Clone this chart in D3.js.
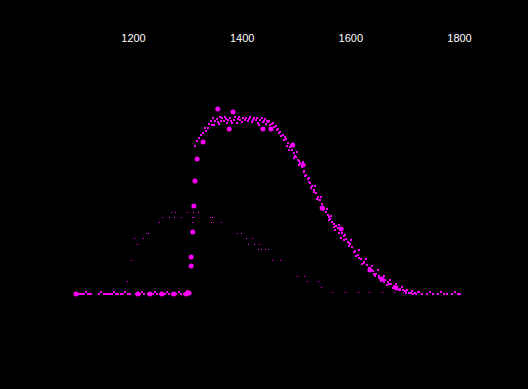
<html>
<head>
<script src="https://d3js.org/d3.v7.min.js"></script>
<style>
body { margin: 0; background: #000; }
svg { display: block; background: #000; }
</style>
</head>
<body>
<svg id="chart" width="528" height="389"></svg>
<script>
var width = 528, height = 389;

// tick labels along the top
var xTicks = [1200, 1400, 1600, 1800];

// main curve, small markers
var mainX = [1093,1098,1104,1110,1113,1117,1120,1138,1142,1146,1158,1162,1165,1169,1178,1182,1186,1190,1212,1216,1236,1240,1258,1262,1280,1284,1300,
  1100,1107,1123,1150,1154,1173,1195,1205,1220,1227,1245,1249,1267,1271,1289,1293,
  1314,1318,1321,1325,1329,1334,1338,1345,1347,1351,1356,1360,1364,1367,1371,1375,1378,1382,1388,1393,1397,1402,1408,1412,1415,1419,1423,1426,1430,1434,1437,1441,1445,1448,1452,1456,1459,1463,1467,
  1332,1340,1344,1349,1355,1358,1362,1369,1373,1380,1386,1391,1395,1401,1406,1413,1421,1428,1432,1439,1443,1447,1450,1458,1465,
  1470,1476,1482,1485,1489,1493,1496,1500,1504,1507,1511,1515,1518,1522,1526,1529,1533,1537,1540,1544,1548,1551,1555,1559,1562,1566,
  1570,1573,1577,1581,1584,1588,1592,1595,1599,1603,1608,1614,1620,1625,1631,1636,1642,1647,1653,1658,1664,1669,1675,1680,1686,1691,1697,1702,1708,
  1472,1480,1483,1491,1498,1502,1505,1513,1516,1524,1528,1535,1539,1546,1550,1557,1561,1564,1572,1579,1583,1590,1597,1601,1610,1616,1621,1629,1634,1640,1645,1651,1656,1662,1667,1673,1678,1684,1689,1695,1700,1704,1713,1719,1724,
  1469,1478,1487,1496,1505,1515,1524,1533,1542,1551,1561,1570,1579,1588,1597,1607,1616,1625,1634,1643,1653,1662,1671,1682,1691,1702,1712,
  1715,1720,1726,1732,1741,1746,1752,1761,1766,1772,1778,1787,1792,1798,1802];
var mainY = [0,0,0,0,1.1,0,0,0,1.1,0,0,0,1.1,0,0,0,1.1,0,0,1.1,0,1.1,0,1.1,0,1.1,1.7,
  0,0,0,0,0,0,0,0,0,0,0,0,0,0,0,0,
  85.1,87.9,89.7,91.4,92.5,93.7,95.4,97.1,101.1,99.4,98.9,101.7,101.1,99.4,100.6,100,101.1,98.3,101.7,100.6,100,101.1,101.1,99.4,101.7,98.9,101.1,100,98.3,100,101.1,99.4,97.7,98.9,97.1,97.7,96,96.6,94.8,
  95.4,97.7,99.4,97.1,100.6,97.7,99.4,101.7,98.3,99.4,100,98.3,101.7,98.9,100,100.6,100,101.1,97.1,98.9,100.6,99.4,99.4,98.3,94.3,
  93.1,91.4,89.1,86.8,84.5,82.8,81,78.7,77,75.3,73,70.7,68.4,66.1,63.8,62.1,59.8,58,55.7,54,51.7,49.4,47.1,45.4,43.1,41.4,
  40.2,39.1,37.9,36.8,35,33.3,31.6,29.9,28.7,27,24.7,22.4,20.1,18.4,16.7,14.9,13.2,11.5,10.3,9.2,8,6.9,5.7,4.6,4,2.9,2.3,1.1,0.6,
  90.8,90.2,85.1,85.1,79.3,81.6,74.1,75.9,67.8,66.7,60.9,62.1,54.6,55.7,48.3,48.9,42.5,44.8,36.8,39.7,32.2,33.9,27.6,31,21.8,25.3,17.2,20.1,13.2,16.1,10.3,13.8,7.5,10.3,5.2,8,3.4,5.7,2.3,4,1.7,2.3,1.7,0.6,1.1,
  92.5,88.5,82.8,78.2,76.4,70.1,64.4,58.6,54,48.9,44.3,38.5,35.1,31,29.3,24.1,20.7,17.8,14.9,11.5,9.2,6.9,5.7,3.4,2.3,0.6,0.6,
  0,0,1.1,0,0,1.1,0,0,1.1,0,0,0,1.1,0,0];

// main curve, large markers
var bigX = [1095,1209,1231,1253,1275,1298,1303,1307,1307,1310,1312,1314,1318,1329,1356,1377,1384,1439,1454,1494,1513,1548,1583,1636,1658,1684];
var bigY = [0,0,0,0,0,0,0.6,16.1,21.3,35.6,50.6,64.9,77.6,87.4,106.3,94.8,104.6,94.8,94.8,85.6,74.1,49.4,37.4,13.8,8.6,3.4];

// second, lower curve (fine dots)
var lowX = [1189,1196,1202,1207,1218,1224,1228,1248,1253,1266,1270,1277,1275,1288,1299,1309,1309,1310,1312,1320,1342,1345,1344,1362,1391,1399,1408,1419,1412,1423,1432,1430,1436,1443,1448,1456,1470,1502,1515,1520,1540,1546,1566,1590,1614,1634,1658,1680,1697];
var lowY = [7.5,19.5,32.2,28.7,32.2,35,35,41.4,44.3,44.3,47.1,47.1,44.3,44.3,47.1,44.3,41.4,47.1,44.3,47.1,44.3,44.3,41.4,41.4,35,35,32.2,32.2,28.7,28.7,28.7,25.9,25.9,25.9,25.9,19.5,19.5,10.3,10.3,7.5,7.5,4,1.1,1.1,1.1,1.1,1.1,1.1,1.1];

var svg = d3.select("#chart");
var x = d3.scaleLinear().domain([1200, 1800]).range([133, 459]);
var y = d3.scaleLinear().domain([0, 100]).range([294, 120]);

var axis = svg.append("g")
  .attr("transform", "translate(0,42)")
  .call(d3.axisTop(x).tickValues(xTicks).tickSize(0).tickPadding(0).tickFormat(d3.format("d")));
axis.select(".domain").remove();
axis.selectAll("text")
  .attr("fill", "#fff")
  .style("font-family", "Liberation Sans, Arial, sans-serif")
  .style("font-size", "11px");

svg.selectAll("rect.low").data(lowX).enter().append("rect")
  .attr("class", "low")
  .attr("x", function(d){ return Math.round(x(d)); })
  .attr("y", function(d, i){ return Math.round(y(lowY[i])); })
  .attr("width", 1).attr("height", 1)
  .attr("fill", "#ff00ff");

svg.selectAll("rect.main").data(mainX).enter().append("rect")
  .attr("class", "main")
  .attr("x", function(d){ return Math.round(x(d)) - 1; })
  .attr("y", function(d, i){ return Math.round(y(mainY[i])) - 1; })
  .attr("width", 2).attr("height", 2)
  .attr("fill", "#ff00ff");

svg.selectAll("circle.big").data(bigX).enter().append("circle")
  .attr("class", "big")
  .attr("cx", function(d){ return x(d); })
  .attr("cy", function(d, i){ return y(bigY[i]); })
  .attr("r", 2.5)
  .attr("fill", "#ff00ff");
</script>
</body>
</html>
